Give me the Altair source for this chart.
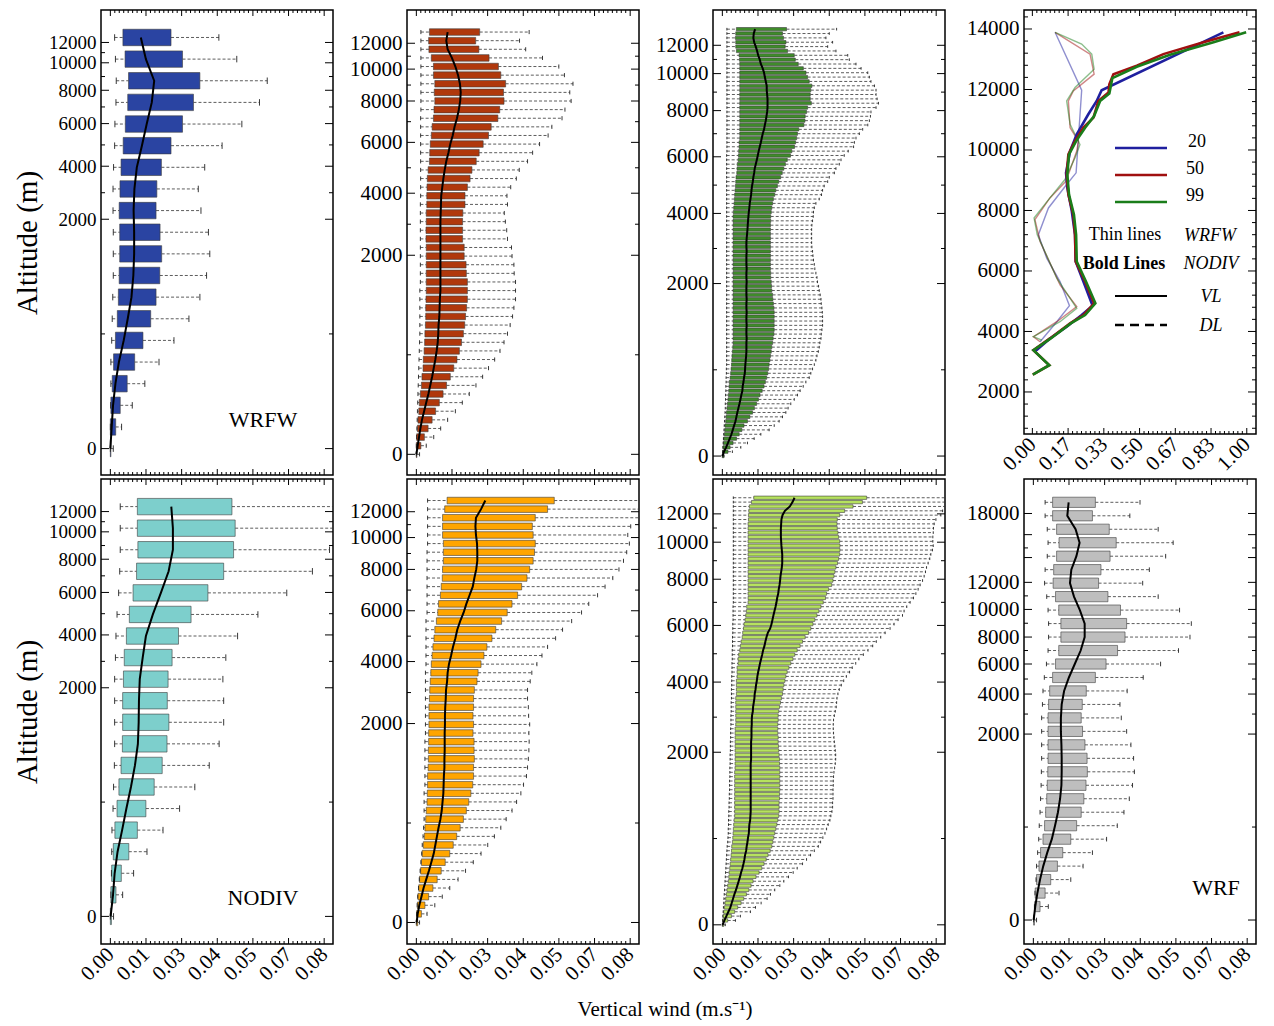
import altair as alt
import pandas as pd
import numpy as np

FONT = "Liberation Serif"
W = 232
H = 465
H4 = 424

# ---------------- box-plot data (values in 1e-3 m/s), level 0 = surface ----------------
# WRFW, 20 levels
wrfw_low = [0.0, 0.0, 0.1, 0.2, 0.2, 0.5, 0.7, 0.9, 1.1, 1.1, 1.1, 1.0, 1.0, 1.2, 1.6, 1.7, 2.1, 2.2, 1.9, 1.6]
wrfw_q1 = [0.0, 0.0, 0.2, 0.7, 1.2, 1.9, 2.6, 3.0, 3.3, 3.5, 3.5, 3.3, 3.6, 4.0, 4.8, 5.6, 6.5, 6.8, 5.5, 4.7]
wrfw_med = [0.0, 0.5, 1.0, 1.9, 3.2, 5.0, 6.5, 7.9, 8.6, 8.9, 8.9, 8.7, 9.0, 9.9, 11.8, 13.6, 15.5, 16.4, 13.3, 11.4]
wrfw_q3 = [0.2, 2.0, 3.7, 6.3, 9.1, 12.2, 15.1, 17.1, 18.5, 19.2, 18.6, 17.1, 17.4, 19.1, 22.7, 27.0, 31.1, 33.5, 27.0, 22.7]
wrfw_high = [1.1, 4.2, 8.2, 12.9, 18.2, 23.8, 29.4, 33.5, 36.0, 37.2, 36.7, 33.9, 32.9, 35.3, 41.8, 49.2, 55.8, 58.7, 47.3, 40.6]

# 50 levels (red)
r50_low = [0.0, 0.0, 0.1, 0.2, 0.3, 0.4, 0.5, 0.6, 0.7, 0.8, 0.9, 1.0, 1.1, 1.2, 1.3, 1.3, 1.3, 1.3, 1.3, 1.3,
           1.5, 1.5, 1.5, 1.5, 1.5, 1.5, 1.5, 1.5, 1.5, 1.5, 1.6, 1.6, 1.6, 1.6, 1.6, 1.6, 1.6, 1.6, 1.6, 1.6,
           1.7, 1.7, 1.7, 1.7, 1.7, 1.7, 1.7, 1.7, 1.7, 1.7]
r50_q1 = [0.0, 0.0, 0.1, 0.4, 0.6, 0.9, 1.1, 1.5, 1.9, 2.1, 2.5, 2.6, 2.9, 3.1, 3.2, 3.4, 3.5, 3.5, 3.6, 3.7,
          3.7, 3.7, 3.7, 3.7, 3.7, 3.6, 3.6, 3.7, 3.7, 3.9, 3.9, 4.0, 4.1, 4.4, 4.9, 5.0, 5.2, 5.6, 5.9, 6.4,
          6.6, 6.9, 6.7, 6.9, 6.4, 6.4, 5.6, 4.7, 4.6, 4.9]
r50_med = [0.0, 0.5, 1.0, 1.5, 2.1, 2.9, 3.7, 4.5, 5.2, 5.9, 6.5, 7.1, 7.6, 8.0, 8.2, 8.3, 8.6, 8.7, 8.8, 9.0,
           9.0, 9.0, 9.0, 9.0, 9.0, 9.0, 9.0, 9.0, 9.1, 9.2, 9.3, 9.7, 10.1, 10.6, 11.2, 12.0, 12.7, 13.6, 14.3, 15.2,
           15.9, 16.4, 16.6, 16.3, 15.6, 14.6, 13.3, 11.7, 11.2, 11.7]
r50_q3 = [0.2, 1.7, 3.0, 4.4, 5.9, 7.2, 8.6, 10.0, 11.3, 12.7, 14.0, 15.2, 16.1, 16.9, 17.6, 18.1, 18.4, 18.8, 19.1, 19.1,
          19.1, 18.7, 18.6, 17.9, 17.9, 17.3, 17.3, 17.3, 17.4, 18.2, 18.2, 19.1, 20.1, 20.8, 22.4, 23.5, 25.0, 27.0, 28.0, 30.5,
          31.2, 32.8, 32.6, 33.4, 31.6, 30.7, 27.2, 23.4, 22.2, 23.7]
r50_high = [1.2, 3.7, 6.5, 9.1, 11.7, 14.6, 17.2, 19.8, 22.3, 24.8, 27.0, 29.3, 31.3, 32.8, 34.1, 35.1, 36.0, 36.5, 37.1, 37.1,
            37.1, 36.6, 36.5, 35.8, 35.6, 34.1, 33.8, 33.3, 32.9, 34.1, 33.9, 35.3, 37.4, 38.5, 41.6, 43.5, 46.1, 49.3, 50.7, 54.5,
            55.6, 57.9, 57.4, 58.6, 55.4, 53.3, 47.2, 40.9, 38.6, 42.2]

# 99 levels (green)
g99_low = [0.0, 0.1, 0.2, 0.3, 0.4, 0.5, 0.6, 0.7, 0.8, 0.9,
           1.0, 1.1, 1.1, 1.2, 1.2, 1.3, 1.3, 1.4, 1.4, 1.5,
           1.5, 1.6, 1.6, 1.6, 1.6, 1.6, 1.6, 1.6, 1.6, 1.6,
           1.6, 1.6, 1.6, 1.6, 1.6, 1.6, 1.6, 1.6, 1.6, 1.6,
           1.6, 1.6, 1.6, 1.6, 1.6, 1.6, 1.6, 1.6, 1.6, 1.6,
           1.6, 1.6, 1.6, 1.6, 1.6, 1.6, 1.6, 1.6, 1.6, 1.6,
           1.6, 1.6, 1.6, 1.6, 1.6, 1.6, 1.6, 1.6, 1.6, 1.6,
           1.7, 1.7, 1.7, 1.7, 1.7, 1.7, 1.7, 1.7, 1.7, 1.7,
           1.7, 1.7, 1.7, 1.7, 1.7, 1.7, 1.7, 1.7, 1.7, 1.7,
           1.7, 1.7, 1.7, 1.7, 1.7, 1.7, 1.7, 1.7, 1.7]
g99_q1 = [0.0, 0.1, 0.25, 0.4, 0.5, 0.75, 0.9, 1.0, 1.25, 1.4,
          1.5, 1.75, 1.9, 2.1, 2.25, 2.4, 2.5, 2.6, 2.9, 3.1,
          3.25, 3.4, 3.5, 3.6, 3.75, 3.9, 4.0, 4.0, 4.0, 4.0,
          4.0, 4.0, 4.0, 4.0, 4.0, 4.0, 4.0, 4.0, 4.0, 4.0,
          4.0, 4.0, 4.0, 4.0, 4.0, 4.0, 4.0, 4.0, 4.0, 4.0,
          4.0, 4.0, 4.0, 4.0, 4.0, 4.0, 4.1, 4.25, 4.4, 4.5,
          4.6, 4.75, 4.9, 5.0, 5.1, 5.4, 5.5, 5.6, 5.9, 6.0,
          6.1, 6.25, 6.25, 6.5, 6.5, 6.5, 6.5, 6.5, 6.5, 6.5,
          6.5, 6.5, 6.5, 6.5, 6.5, 6.5, 6.5, 6.5, 6.5, 6.5,
          6.5, 6.4, 6.25, 5.25, 5.0, 5.0, 4.9, 5.0, 5.25]
g99_med = [0.0, 0.6, 1.4, 2.1, 2.75, 3.4, 3.9, 4.4, 4.9, 5.25,
           5.6, 6.0, 6.4, 6.75, 7.1, 7.5, 7.6, 7.9, 8.1, 8.4,
           8.5, 8.6, 8.75, 8.9, 9.0, 9.0, 9.0, 9.1, 9.0, 9.0,
           9.1, 9.0, 9.0, 9.1, 9.0, 9.0, 9.1, 9.0, 9.0, 9.0,
           9.1, 9.0, 9.0, 9.1, 9.0, 9.0, 9.0, 9.1, 9.0, 9.0,
           9.1, 9.25, 9.4, 9.5, 9.6, 9.75, 9.9, 10.1, 10.25, 10.5,
           10.75, 10.9, 11.1, 11.4, 11.6, 11.9, 12.1, 12.5, 12.9, 13.25,
           13.6, 14.0, 14.4, 14.75, 15.1, 15.6, 15.9, 16.25, 16.5, 16.75,
           16.9, 16.9, 16.9, 16.75, 16.6, 16.6, 16.25, 15.9, 15.6, 15.1,
           14.4, 14.0, 13.4, 13.0, 12.5, 11.9, 11.6, 11.75, 12.25]
g99_q3 = [0.6, 2.1, 2.9, 4.0, 5.3, 6.3, 7.3, 8.1, 9.4, 10.3,
          11.3, 12.0, 12.8, 13.5, 14.1, 14.9, 15.6, 16.1, 16.6, 17.0,
          17.3, 17.5, 17.8, 18.0, 18.3, 18.5, 18.8, 19.0, 19.3, 19.4,
          19.4, 19.4, 19.4, 19.4, 19.3, 19.1, 18.9, 18.8, 18.5, 18.4,
          18.3, 18.1, 18.1, 18.0, 18.0, 18.0, 18.0, 18.0, 18.0, 18.0,
          18.0, 18.0, 18.0, 18.0, 18.1, 18.1, 18.3, 18.5, 18.8, 19.1,
          19.6, 20.0, 20.6, 21.1, 21.8, 22.4, 23.0, 23.6, 24.3, 25.5,
          26.0, 27.0, 27.4, 27.8, 28.1, 28.6, 30.5, 30.9, 31.0, 31.5,
          31.9, 33.3, 32.9, 32.9, 33.1, 33.5, 32.5, 31.9, 31.3, 30.3,
          28.4, 27.3, 26.9, 24.4, 23.5, 23.8, 22.9, 22.5, 24.0]
g99_high = [0.6, 3.75, 6.9, 9.4, 11.9, 14.4, 17.5, 19.4, 21.25, 22.5,
            23.75, 24.6, 25.6, 26.9, 28.1, 29.1, 30.25, 31.25, 32.5, 33.1,
            33.75, 34.4, 35.0, 35.4, 35.9, 36.25, 36.5, 36.9, 37.0, 37.25,
            37.5, 37.5, 37.5, 37.4, 37.25, 37.0, 36.9, 36.6, 36.25, 36.0,
            35.6, 35.4, 35.0, 34.6, 34.4, 34.1, 33.9, 33.75, 33.5, 33.4,
            33.4, 33.4, 33.4, 33.5, 33.75, 34.0, 34.1, 34.4, 35.0, 36.25,
            37.1, 37.5, 38.1, 39.4, 40.0, 41.9, 42.5, 43.75, 44.4, 45.6,
            47.1, 49.1, 49.4, 50.0, 51.25, 52.5, 54.4, 55.0, 55.4, 55.6,
            57.5, 58.4, 57.9, 57.5, 57.5, 56.9, 55.6, 55.0, 54.4, 51.9,
            50.0, 47.5, 46.9, 42.5, 39.4, 41.25, 38.75, 40.0, 42.75]

# NODIV, 20 levels
nodiv_low = [0.0, 0.2, 0.4, 0.5, 0.6, 1.0, 1.2, 1.5, 1.6, 1.6, 1.6, 1.6, 1.9, 2.1, 2.5, 3.1, 3.5, 3.7, 3.7, 3.7]
nodiv_q1 = [0.0, 0.2, 0.5, 1.1, 1.7, 2.5, 3.2, 4.0, 4.5, 4.6, 4.6, 4.9, 5.2, 6.0, 7.1, 8.5, 9.8, 10.3, 10.1, 10.1]
nodiv_med = [0.1, 1.0, 1.6, 2.7, 4.4, 6.0, 7.7, 9.2, 10.3, 10.6, 10.7, 11.0, 12.1, 13.3, 15.9, 18.9, 21.8, 23.4, 23.4, 22.8]
nodiv_q3 = [0.4, 2.1, 4.1, 6.9, 10.1, 13.3, 16.4, 19.4, 21.2, 21.9, 21.3, 21.6, 23.1, 25.5, 30.2, 36.5, 42.4, 46.1, 46.7, 45.5]
nodiv_high = [1.2, 4.6, 8.7, 13.7, 19.7, 25.9, 31.6, 37.0, 40.7, 42.4, 42.4, 42.1, 43.2, 47.6, 55.2, 66.0, 75.6, 82.0, 86.0, 92.0]

# 50 levels (orange)
o50_low = [0.0, 0.1, 0.3, 0.5, 0.8, 1.1, 1.4, 1.7, 2.0, 2.2, 2.5, 2.7, 2.9, 2.9, 2.9, 2.9, 3.2, 3.2, 3.2, 3.2,
           3.2, 3.2, 3.4, 3.4, 3.4, 3.4, 3.4, 3.4, 3.4, 3.4, 3.6, 3.6, 3.6, 3.6, 3.6, 3.6, 4.0, 4.0, 4.0, 4.0,
           4.0, 4.0, 4.0, 4.0, 4.2, 4.2, 4.2, 4.2, 4.2, 4.2]
o50_q1 = [0.0, 0.1, 0.4, 0.6, 0.9, 1.2, 1.6, 1.9, 2.2, 2.6, 3.0, 3.2, 3.5, 3.7, 4.0, 4.1, 4.2, 4.2, 4.4, 4.5,
          4.5, 4.6, 4.6, 4.7, 4.7, 4.7, 4.9, 5.0, 5.2, 5.4, 5.6, 5.9, 6.2, 6.6, 6.9, 7.5, 8.0, 8.3, 9.0, 9.3,
          9.7, 9.8, 10.1, 10.1, 10.1, 9.8, 9.8, 9.8, 10.6, 11.5]
o50_med = [0.1, 0.5, 1.1, 1.9, 2.7, 3.7, 4.7, 5.6, 6.5, 7.1, 7.7, 8.3, 9.0, 9.5, 9.8, 10.1, 10.2, 10.3, 10.5, 10.5,
           10.6, 10.6, 10.6, 10.7, 10.7, 10.8, 11.0, 11.1, 11.5, 11.7, 12.2, 13.0, 13.7, 14.6, 15.3, 16.4, 17.7, 18.7, 19.9, 21.1,
           21.7, 22.4, 22.8, 22.8, 22.7, 22.3, 22.1, 22.3, 24.2, 25.8]
o50_q3 = [0.5, 1.9, 3.2, 4.6, 6.2, 7.8, 9.3, 10.8, 12.5, 13.8, 15.1, 16.4, 17.6, 18.7, 19.6, 20.4, 21.1, 21.4, 21.4, 21.7,
          21.6, 21.6, 21.2, 21.4, 21.2, 21.4, 21.4, 21.7, 22.7, 23.1, 24.2, 25.3, 26.4, 28.3, 29.7, 31.9, 34.0, 35.8, 37.9, 39.4,
          41.4, 42.4, 43.7, 44.2, 44.5, 43.7, 43.4, 44.5, 49.1, 51.6]
o50_high = [1.2, 4.0, 6.9, 9.7, 12.5, 15.6, 18.4, 21.3, 24.2, 26.7, 29.2, 31.6, 33.6, 35.8, 37.5, 39.1, 40.1, 41.2, 41.6, 41.9,
            42.1, 42.2, 42.1, 42.4, 42.0, 41.9, 41.6, 41.6, 42.6, 43.2, 45.1, 47.0, 49.1, 52.1, 54.7, 58.1, 61.8, 64.5, 67.8, 70.6,
            73.5, 75.8, 77.5, 78.7, 79.7, 79.1, 80.2, 83.5, 87.0, 95.0]

# 99 levels (light green)
lg99_low = [0.0, 0.1, 0.2, 0.3, 0.4, 0.5, 0.6, 0.7, 0.8, 0.9,
            1.0, 1.1, 1.2, 1.3, 1.4, 1.5, 1.6, 1.7, 1.8, 2.0,
            2.1, 2.2, 2.2, 2.3, 2.3, 2.4, 2.4, 2.5, 2.5, 2.6,
            2.6, 2.7, 2.7, 2.7, 2.8, 2.8, 2.8, 2.9, 2.9, 2.9,
            3.0, 3.0, 3.0, 3.1, 3.1, 3.1, 3.2, 3.2, 3.2, 3.3,
            3.3, 3.3, 3.4, 3.4, 3.4, 3.5, 3.5, 3.5, 3.6, 3.6,
            3.6, 3.7, 3.7, 3.7, 3.8, 3.8, 3.8, 3.9, 3.9, 3.9,
            4.0, 4.0, 4.0, 4.0, 4.1, 4.1, 4.1, 4.1, 4.1, 4.1,
            4.1, 4.1, 4.1, 4.1, 4.1, 4.1, 4.1, 4.1, 4.1, 4.1,
            4.1, 4.1, 4.1, 4.1, 4.1, 4.1, 4.1, 4.1, 4.1]
lg99_q1 = [0.0, 0.1, 0.25, 0.5, 0.75, 1.0, 1.25, 1.5, 1.75, 2.0,
           2.25, 2.4, 2.5, 2.75, 2.9, 3.1, 3.25, 3.4, 3.5, 3.75,
           3.9, 4.0, 4.1, 4.25, 4.4, 4.6, 4.6, 4.6, 4.6, 4.6,
           4.6, 4.6, 4.6, 4.6, 4.6, 4.6, 4.75, 4.75, 4.75, 4.75,
           4.75, 4.75, 4.75, 4.75, 4.75, 4.75, 5.0, 5.0, 5.0, 5.0,
           5.0, 5.0, 5.0, 5.25, 5.25, 5.25, 5.25, 5.5, 5.5, 5.5,
           5.9, 5.9, 6.1, 6.5, 6.75, 7.0, 7.4, 7.6, 7.9, 8.1,
           8.5, 8.75, 9.0, 9.1, 9.6, 9.6, 9.6, 9.6, 9.6, 9.6,
           9.6, 9.6, 9.6, 9.6, 9.6, 9.6, 9.6, 9.6, 9.6, 9.6,
           9.6, 9.6, 9.6, 9.75, 9.75, 9.9, 10.1, 10.9, 11.75]
lg99_med = [0.1, 0.75, 1.5, 2.25, 3.0, 3.5, 4.0, 4.5, 5.1, 5.6,
            6.1, 6.6, 7.0, 7.5, 7.9, 8.25, 8.5, 8.9, 9.1, 9.4,
            9.6, 9.9, 10.0, 10.1, 10.4, 10.5, 10.6, 10.6, 10.6, 10.6,
            10.6, 10.6, 10.6, 10.6, 10.6, 10.6, 10.6, 10.6, 10.75, 10.75,
            10.75, 10.75, 10.75, 10.9, 10.9, 10.9, 11.0, 11.0, 11.1, 11.4,
            11.5, 11.75, 12.0, 12.1, 12.4, 12.6, 12.9, 13.1, 13.4, 13.75,
            14.1, 14.5, 14.9, 15.25, 15.75, 16.1, 16.5, 17.0, 17.9, 18.4,
            18.75, 19.1, 19.5, 19.9, 20.25, 20.5, 20.9, 21.1, 21.4, 21.6,
            21.75, 22.0, 22.25, 22.4, 22.4, 22.4, 22.25, 22.1, 22.0, 21.9,
            21.9, 21.9, 22.0, 22.1, 22.5, 23.4, 25.25, 26.25, 27.0]
lg99_q3 = [0.5, 2.0, 3.4, 4.6, 5.75, 7.0, 8.0, 9.0, 9.9, 10.75,
           11.5, 12.6, 13.75, 14.75, 15.6, 16.4, 17.1, 17.9, 18.5, 18.9,
           19.25, 19.6, 20.0, 20.4, 20.75, 21.1, 21.25, 21.25, 21.25, 21.4,
           21.4, 21.5, 21.5, 21.5, 21.5, 21.5, 21.5, 21.4, 21.4, 21.25,
           21.1, 21.0, 20.9, 20.9, 20.75, 20.75, 20.75, 20.9, 20.9, 21.1,
           21.4, 21.75, 22.1, 22.5, 22.75, 23.0, 23.4, 23.75, 24.25, 24.9,
           25.6, 26.4, 27.1, 28.0, 29.1, 30.0, 31.0, 32.25, 33.1, 33.9,
           34.6, 35.4, 36.1, 36.9, 37.75, 38.6, 39.0, 39.75, 40.9, 41.4,
           41.75, 42.1, 42.5, 43.1, 43.5, 43.9, 44.0, 44.0, 43.9, 43.5,
           43.25, 43.0, 42.9, 43.0, 43.9, 45.75, 48.9, 52.4, 54.0]
lg99_high = [1.1, 4.9, 6.75, 10.5, 12.4, 14.5, 16.75, 18.0, 19.6, 21.5,
             23.0, 24.75, 26.5, 28.0, 30.0, 31.5, 33.0, 34.4, 35.9, 36.75,
             37.6, 38.4, 39.0, 39.6, 40.25, 40.6, 41.0, 41.25, 41.25, 41.4,
             41.4, 41.4, 41.5, 41.5, 41.6, 41.75, 42.0, 42.25, 42.4, 42.4,
             42.25, 42.1, 41.9, 41.75, 41.6, 41.5, 41.5, 41.6, 41.9, 42.25,
             42.6, 42.75, 42.9, 43.25, 43.75, 44.5, 45.4, 46.4, 47.6, 48.6,
             49.9, 51.1, 52.75, 54.5, 56.25, 57.6, 59.25, 60.9, 62.75, 64.25,
             65.75, 67.4, 68.0, 69.0, 70.25, 71.5, 72.4, 73.25, 74.0, 74.9,
             75.5, 76.0, 76.4, 77.0, 77.6, 78.0, 78.6, 78.9, 78.75, 78.75,
             78.9, 79.0, 79.25, 79.9, 81.75, 82.4, 84.9, 85.5, 86.75]

# WRF, 32 levels
wrf_low = [0.1, 0.4, 0.6, 1.0, 1.2, 1.6, 2.0, 2.2, 2.5, 2.7, 2.9, 3.0, 3.1, 3.1, 3.1, 3.1,
           3.4, 3.6, 4.1, 4.9, 5.5, 5.7, 5.7, 5.5, 5.0, 4.2, 4.4, 5.2, 5.5, 5.2, 4.4, 4.4]
wrf_q1 = [0.1, 0.5, 0.7, 1.2, 2.1, 2.7, 3.6, 4.2, 4.6, 5.0, 5.2, 5.4, 5.5, 5.5, 5.5, 5.5,
          5.7, 6.1, 7.2, 8.3, 9.5, 10.3, 10.3, 9.5, 8.3, 7.4, 7.6, 8.7, 9.6, 8.7, 7.2, 7.2]
wrf_med = [0.1, 0.7, 1.5, 2.5, 3.7, 5.2, 6.9, 8.1, 9.2, 10.0, 10.5, 10.6, 10.6, 10.5, 10.3, 10.3,
           10.6, 11.5, 13.3, 15.5, 17.7, 19.2, 19.2, 17.4, 15.2, 13.7, 14.2, 16.1, 17.3, 15.8, 12.7, 13.2]
wrf_q3 = [0.4, 2.5, 4.4, 6.5, 9.0, 11.0, 14.0, 16.2, 17.9, 18.9, 19.7, 20.2, 20.1, 19.3, 18.4, 17.9,
          18.3, 19.8, 23.2, 27.2, 31.5, 34.3, 34.9, 32.6, 27.9, 24.4, 25.3, 28.7, 31.0, 28.4, 22.1, 23.2]
wrf_high = [1.2, 5.6, 9.6, 14.0, 18.6, 22.1, 27.4, 31.4, 33.9, 35.9, 37.1, 37.8, 37.5, 36.5, 34.9, 32.9,
            32.4, 35.1, 41.1, 47.6, 54.3, 58.6, 59.1, 54.7, 46.7, 40.9, 43.4, 49.5, 52.3, 46.7, 36.1, 39.9]

# altitude tick labels placed at (fractional) model level positions
ALT_LABELS = ["0", "2000", "4000", "6000", "8000", "10000", "12000"]
LEV20_TICKS = [0, 10.6, 13.05, 15.02, 16.56, 17.83, 18.77]
LEV50_TICKS = [0, 23.1, 30.3, 36.2, 41.0, 44.7, 47.7]
LEV99_TICKS = [0, 39.6, 55.7, 68.7, 79.3, 87.8, 94.3]
WRF_LABELS = ["0", "2000", "4000", "6000", "8000", "10000", "12000", "18000"]
WRF_TICKS = [0, 13.8, 16.77, 19.0, 21.0, 23.05, 25.06, 30.17]
WRF_EXTRA_TICKS = [26.9, 28.6]

# ---------------- ratio profiles (top-right panel) ----------------
res_names = ["20", "50", "99"]
bold20_x = [0.891, 0.323, 0.300, 0.261, 0.207, 0.176, 0.157, 0.163, 0.184, 0.199, 0.202, 0.238, 0.281, 0.230, 0.160, 0.082, 0.012]
bold20_alt = [13890, 11976, 11622, 11180, 10516, 9963, 9244, 8746, 7972, 7198, 6313, 5650, 4853, 4544, 4157, 3770, 3340]
bold50_x = [0.966, 0.798, 0.611, 0.487, 0.378, 0.359, 0.355, 0.308, 0.285, 0.238, 0.199, 0.168, 0.160, 0.168, 0.191, 0.199, 0.202, 0.246, 0.288, 0.238, 0.176, 0.082, 0.005, 0.079, 0.002]
bold50_alt = [13890, 13558, 13170, 12783, 12507, 12175, 11899, 11622, 11069, 10737, 10295, 9853, 9189, 8525, 7862, 7198, 6313, 5650, 4931, 4544, 4267, 3770, 3382, 2885, 2575]
bold99_x = [0.997, 0.845, 0.642, 0.487, 0.373, 0.359, 0.316, 0.288, 0.246, 0.204, 0.171, 0.163, 0.171, 0.194, 0.204, 0.207, 0.250, 0.294, 0.246, 0.179, 0.086, 0.005, 0.079, 0.002]
bold99_alt = [13890, 13558, 13148, 12750, 12374, 11866, 11622, 11124, 10737, 10295, 9853, 9189, 8525, 7862, 7198, 6313, 5650, 4931, 4544, 4267, 3770, 3382, 2885, 2575]
thin20_x = [0.106, 0.230, 0.204, 0.160, 0.075, 0.028, 0.067, 0.129, 0.173, 0.114, 0.036]
thin20_alt = [13890, 11976, 9244, 8857, 8083, 7198, 6424, 5650, 4853, 4323, 3659]
thin50_x = [0.106, 0.269, 0.288, 0.191, 0.168, 0.176, 0.215, 0.207, 0.157, 0.082, 0.012, 0.036, 0.129, 0.207, 0.114, 0.005, 0.036]
thin50_alt = [13890, 13170, 12507, 11954, 11622, 10737, 10295, 9963, 8968, 8415, 7696, 6977, 5539, 4820, 4323, 3825, 3659]
thin99_x = [0.106, 0.230, 0.277, 0.288, 0.199, 0.160, 0.176, 0.222, 0.199, 0.152, 0.082, 0.008, 0.023, 0.114, 0.207, 0.129, 0.005, 0.044]
thin99_alt = [13890, 13502, 13170, 12673, 12065, 11622, 10848, 10184, 9742, 9023, 8415, 7751, 7198, 5760, 4765, 4323, 3825, 3714]

# ---------------- styles ----------------
C_WRFW = "#2a44a2"
C_R50 = "#b0380c"
C_G99 = "#3f8c2a"
C_NODIV = "#7dcfcc"
C_O50 = "#ffa500"
C_LG99 = "#b6e25e"
C_WRF = "#bebebe"
LINE_COLORS = ["#1f1f9f", "#a01010", "#1a7d1a"]

X_DOMAIN = [-0.0035, 0.0833]
X_MAJOR = [round(i * 0.08 / 6, 6) for i in range(7)]
X_MINOR = [round(i * 0.08 / 48, 6) for i in range(49) if i % 8]


def lab_expr(levs, labs):
    a = ",".join("'%s'" % s for s in labs)
    b = ",".join(repr(v) for v in levs)
    return "[%s][indexof([%s], datum.value)]" % (a, b)


def inward_ticks(xfield_scale, yfield_scale, xmaj, xmin, ymaj, ymin, w, h, xaxis, yaxis, xname, yname):
    layers = []
    for vals, ln in ((xmaj, 6), (xmin, 3)):
        d = pd.DataFrame({xname: vals})
        for y0, y1 in ((0, ln), (h - ln, h)):
            layers.append(alt.Chart(d).mark_rule(color="black", strokeWidth=1).encode(
                x=alt.X(xname + ":Q", scale=xfield_scale, axis=xaxis, title=None),
                y=alt.value(y0), y2=alt.value(y1)))
    for vals, ln in ((ymaj, 8), (ymin, 4)):
        d = pd.DataFrame({yname: vals})
        for x0, x1 in ((0, ln), (w - ln, w)):
            layers.append(alt.Chart(d).mark_rule(color="black", strokeWidth=1).encode(
                y=alt.Y(yname + ":Q", scale=yfield_scale, axis=yaxis),
                x=alt.value(x0), x2=alt.value(x1)))
    return layers


def box_panel(low, q1, med, q3, high, color, ylev, ylab, ydom, cap, xlabels,
              ytitle="", name=None, name_xy=(0, 0), extra_ticks=(), ylabel_size=21):
    n = len(med)
    for arr in (low, q1, q3, high):
        assert len(arr) == n, (len(arr), n)
    df = pd.DataFrame({
        "lev": np.arange(n),
        "low": np.array(low) / 1000.0,
        "q1": np.array(q1) / 1000.0,
        "med": np.array(med) / 1000.0,
        "q3": np.array(q3) / 1000.0,
        "high": np.array(high) / 1000.0,
    })
    df["ylo"] = df["lev"] - 0.38
    df["yhi"] = df["lev"] + 0.38
    df["clo"] = df["lev"] - cap
    df["chi"] = df["lev"] + cap

    xs = alt.Scale(domain=X_DOMAIN, nice=False, zero=False)
    ys = alt.Scale(domain=ydom, nice=False, zero=False)
    xaxis = alt.Axis(values=X_MAJOR, format=".2f", labels=xlabels, labelAngle=315, labelAlign="right",
                     labelBaseline="middle", labelPadding=7, labelFont=FONT, labelFontSize=21,
                     labelColor="black", labelOverlap=False, ticks=False, domain=False, grid=False, title="")
    yaxis = alt.Axis(values=list(ylev), labelExpr=lab_expr(ylev, ylab), labelFont=FONT,
                     labelFontSize=ylabel_size, labelColor="black", labelPadding=5, labelOverlap=False,
                     ticks=False, domain=False, grid=False, title=ytitle, titleFont=FONT, titleFontSize=29,
                     titleFontWeight="normal", titleColor="black", titlePadding=6)

    def X(f):
        return alt.X(f + ":Q", scale=xs, axis=xaxis, title="")

    def Y(f):
        return alt.Y(f + ":Q", scale=ys, axis=yaxis, title=ytitle)

    base = alt.Chart(df)
    dash = dict(color="#333333", strokeWidth=0.8, strokeDash=[3, 2], clip=True)
    wl = base.mark_rule(**dash).encode(x=X("low"), x2="q1:Q", y=Y("lev"))
    wh = base.mark_rule(**dash).encode(x=X("q3"), x2="high:Q", y=Y("lev"))
    capl = base.mark_rule(color="#222222", strokeWidth=0.9, clip=True).encode(x=X("low"), y=Y("clo"), y2="chi:Q")
    caph = base.mark_rule(color="#222222", strokeWidth=0.9, clip=True).encode(x=X("high"), y=Y("clo"), y2="chi:Q")
    box = base.mark_rect(fill=color, stroke="#3c3c3c", strokeWidth=0.6).encode(x=X("q1"), x2="q3:Q",
                                                                                 y=Y("ylo"), y2="yhi:Q")
    medl = base.mark_line(color="black", strokeWidth=2).encode(x=X("med"), y=Y("lev"), order="lev:Q")
    layers = [wl, wh, box, capl, caph, medl]
    ymin = [(a + b) / 2 for a, b in zip(ylev[:-1], ylev[1:])]
    layers += inward_ticks(xs, ys, X_MAJOR, X_MINOR, list(ylev) + list(extra_ticks), ymin, W, H,
                           xaxis, yaxis, "low", "lev")
    if name:
        layers.append(alt.Chart(pd.DataFrame({"name": [name]})).mark_text(
            font=FONT, fontSize=22, color="black", align="center", baseline="middle").encode(
            x=alt.value(name_xy[0]), y=alt.value(name_xy[1]), text="name:N"))
    return alt.layer(*layers).properties(width=W, height=H)


def legend_rule(x0, x1, y, color, width, dash=None):
    kw = dict(color=color, strokeWidth=width)
    if dash:
        kw["strokeDash"] = dash
    return alt.Chart(pd.DataFrame({"k": [0]})).mark_rule(**kw).encode(
        x=alt.value(x0), x2=alt.value(x1), y=alt.value(y))


def legend_text(txt, x, y, align="center", style="normal", weight="normal", size=18):
    return alt.Chart(pd.DataFrame({"t": [txt]})).mark_text(
        font=FONT, fontSize=size, fontStyle=style, fontWeight=weight, color="black",
        align=align, baseline="middle").encode(x=alt.value(x), y=alt.value(y), text="t:N")


def line_panel():
    rows = []
    series = [("thin", "20", thin20_x, thin20_alt), ("thin", "50", thin50_x, thin50_alt),
              ("thin", "99", thin99_x, thin99_alt), ("bold", "20", bold20_x, bold20_alt),
              ("bold", "50", bold50_x, bold50_alt), ("bold", "99", bold99_x, bold99_alt)]
    for grp, res, xv, av in series:
        assert len(xv) == len(av)
        for i, (a, b) in enumerate(zip(xv, av)):
            rows.append({"grp": grp, "res": res, "sid": grp + res, "ord": i, "ratio": a, "alt": b})
    df = pd.DataFrame(rows)
    xs = alt.Scale(domain=[-0.039, 1.043], nice=False, zero=False)
    ys = alt.Scale(domain=[610, 14628], nice=False, zero=False)
    xmaj = [round(i / 6, 6) for i in range(7)]
    xmin = [round(i / 48, 6) for i in range(49) if i % 8]
    ymaj = list(range(2000, 14001, 2000))
    ymin = [v for v in range(800, 14601, 400) if v % 2000]
    xaxis = alt.Axis(values=xmaj, format=".2f", labelAngle=315, labelAlign="right", labelBaseline="middle",
                     labelPadding=7, labelFont=FONT, labelFontSize=21, labelColor="black", labelOverlap=False,
                     ticks=False, domain=False, grid=False, title="")
    yaxis = alt.Axis(values=ymaj, format="d", labelFont=FONT, labelFontSize=21, labelColor="black",
                     labelPadding=5, labelOverlap=False, ticks=False, domain=False, grid=False, title="")
    color = alt.Color("res:N", scale=alt.Scale(domain=res_names, range=LINE_COLORS), legend=None)
    thin = alt.Chart(df).transform_filter("datum.grp == 'thin'").mark_line(strokeWidth=1.4, opacity=0.5).encode(
        x=alt.X("ratio:Q", scale=xs, axis=xaxis, title=""),
        y=alt.Y("alt:Q", scale=ys, axis=yaxis, title=""),
        color=color, detail="sid:N", order="ord:Q")
    bold = alt.Chart(df).transform_filter("datum.grp == 'bold'").mark_line(strokeWidth=2.6).encode(
        x=alt.X("ratio:Q", scale=xs, axis=xaxis, title=""),
        y=alt.Y("alt:Q", scale=ys, axis=yaxis, title=""),
        color=color, detail="sid:N", order="ord:Q")
    layers = [thin, bold]
    layers += inward_ticks(xs, ys, xmaj, xmin, ymaj, ymin, W, H4, xaxis, yaxis, "ratio", "alt")
    layers += [
        legend_rule(91, 143, 138, LINE_COLORS[0], 2.6),
        legend_rule(91, 143, 165, LINE_COLORS[1], 2.6),
        legend_rule(91, 143, 192, LINE_COLORS[2], 2.6),
        legend_text("20", 164, 132, align="left"),
        legend_text("50", 162, 159, align="left"),
        legend_text("99", 162, 186, align="left"),
        legend_text("Thin lines", 101, 225),
        legend_text("WRFW", 186, 226, style="italic"),
        legend_text("Bold Lines", 100, 254, weight="bold"),
        legend_text("NODIV", 187, 254, style="italic"),
        legend_rule(91, 143, 286, "black", 1.8),
        legend_text("VL", 187, 287, style="italic"),
        legend_rule(91, 143, 315, "black", 2.6, dash=[9, 6]),
        legend_text("DL", 187, 316, style="italic"),
    ]
    return alt.layer(*layers).properties(width=W, height=H4)


p1 = box_panel(wrfw_low, wrfw_q1, wrfw_med, wrfw_q3, wrfw_high, C_WRFW, LEV20_TICKS, ALT_LABELS,
               [-1.22, 20.27], 0.15, False, ytitle="Altitude (m)", name="WRFW", name_xy=(162, 410),
               ylabel_size=19)
p2 = box_panel(r50_low, r50_q1, r50_med, r50_q3, r50_high, C_R50, LEV50_TICKS, ALT_LABELS,
               [-2.4, 51.56], 0.24, False)
p3 = box_panel(g99_low, g99_q1, g99_med, g99_q3, g99_high, C_G99, LEV99_TICKS, ALT_LABELS,
               [-4.35, 102.4], 0.3, False)
p4 = line_panel()
p5 = box_panel(nodiv_low, nodiv_q1, nodiv_med, nodiv_q3, nodiv_high, C_NODIV, LEV20_TICKS, ALT_LABELS,
               [-1.28, 20.28], 0.15, True, ytitle="Altitude (m)", name="NODIV", name_xy=(162, 419),
               ylabel_size=19)
p6 = box_panel(o50_low, o50_q1, o50_med, o50_q3, o50_high, C_O50, LEV50_TICKS, ALT_LABELS,
               [-2.5, 51.5], 0.24, True)
p7 = box_panel(lg99_low, lg99_q1, lg99_med, lg99_q3, lg99_high, C_LG99, LEV99_TICKS, ALT_LABELS,
               [-4.4, 102.3], 0.3, True)
p8 = box_panel(wrf_low, wrf_q1, wrf_med, wrf_q3, wrf_high, C_WRF, WRF_TICKS, WRF_LABELS,
               [-1.78, 32.73], 0.17, True, name="WRF", name_xy=(192, 409), extra_ticks=WRF_EXTRA_TICKS)

row1 = alt.hconcat(alt.hconcat(p1, p2, p3, spacing=13), p4, spacing=18)
row2 = alt.hconcat(alt.hconcat(p5, p6, p7, spacing=13), p8, spacing=18)
chart = alt.vconcat(row1, row2, spacing=0).properties(
    title=alt.TitleParams("Vertical wind (m.s⁻¹)", orient="bottom", anchor="middle", font=FONT,
                          fontSize=21, fontWeight="normal", color="black", dx=30, offset=14),
    padding={"left": 4, "top": 0, "right": 4, "bottom": 0},
    background="white",
).configure_view(stroke="black", strokeWidth=1.5)

chart.save("out.html", embed_options={"renderer": "svg", "actions": False})
